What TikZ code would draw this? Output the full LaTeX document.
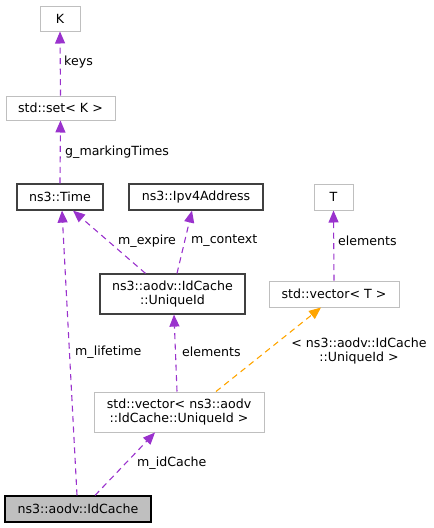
\documentclass[tikz,border=0pt]{standalone}
\usepackage{fontspec}
\setmainfont{DejaVu Sans}
\usetikzlibrary{arrows.meta}

\definecolor{edgepurple}{HTML}{9A32CD}
\definecolor{edgeorange}{HTML}{FFA500}
\definecolor{boxgray}{HTML}{BFBFBF}
\definecolor{boxdark}{HTML}{404040}

\begin{document}
\begin{tikzpicture}[x=1pt, y=-1pt,
    every node/.style={font=\fontsize{12.6}{14.4}\selectfont, inner sep=0pt},
    cls/.style={rectangle, draw=boxdark, line width=1.2pt, fill=white, align=center},
    tmpl/.style={rectangle, draw=boxgray, line width=1pt, fill=white, align=center},
    focus/.style={rectangle, draw=black, line width=1.2pt, fill=boxgray, align=center},
    uses/.style={-{Triangle[length=12pt, width=10pt]}, edgepurple, line width=1.1pt, dash pattern=on 6pt off 4.5pt},
    inst/.style={-{Triangle[length=12pt, width=10pt]}, edgeorange, line width=1.1pt, dash pattern=on 6pt off 4.5pt},
    lbl/.style={anchor=west, text=black}
]
    \useasboundingbox (0,0) rectangle (434,528);

    % top row: templates
    \node[tmpl, minimum width=40pt, minimum height=25pt] (k) at (60,18.5) {K};
    \node[tmpl, minimum width=109pt, minimum height=24pt] (set) at (60.5,108) {std::set\textless{} K \textgreater{}};

    % classes
    \node[cls, minimum width=86pt, minimum height=26pt] (time) at (60,197) {ns3::Time};
    \node[cls, minimum width=134pt, minimum height=26pt] (ipv4) at (196,197) {ns3::Ipv4Address};
    \node[tmpl, minimum width=39pt, minimum height=26pt] (t) at (333.5,197) {T};
    \node[cls, minimum width=145pt, minimum height=40pt] (uid) at (172.5,294) {ns3::aodv::IdCache\\::UniqueId};
    \node[tmpl, minimum width=130pt, minimum height=26pt] (vect) at (334,294) {std::vector\textless{} T \textgreater{}};
    \node[tmpl, minimum width=170pt, minimum height=40pt] (vecu) at (179,412) {std::vector\textless{} ns3::aodv\\::IdCache::UniqueId \textgreater{}};
    \node[focus, minimum width=146pt, minimum height=26pt] (idc) at (78,509) {ns3::aodv::IdCache};

    % member edges
    \draw[uses] (set.north) -- (k.south);
    \draw[uses] (time.north) -- (set.south);
    \draw[uses] ([xshift=-1pt]idc.north) -- ([xshift=2pt]time.south);
    \draw[uses] ([xshift=17pt]idc.north) -- ([xshift=-24pt]vecu.south);
    \draw[uses] ([xshift=-27pt]uid.north) -- ([xshift=13pt]time.south);
    \draw[uses] ([xshift=4.5pt]uid.north) -- ([xshift=-4pt]ipv4.south);
    \draw[uses] ([xshift=-2pt]vecu.north) -- ([xshift=1.5pt]uid.south);
    \draw[uses] (vect.north) -- (t.south);

    % template instance
    \draw[inst] ([xshift=37pt]vecu.north) -- ([xshift=-13pt]vect.south);

    % edge labels
    \node[lbl] (lkeys) at (64,62) {keys};
    \node[lbl] (lmark) at (65,152) {g\_markingTimes};
    \node[lbl] (llife) at (75,352) {m\_lifetime};
    \node[lbl] (lidc) at (137,463) {m\_idCache};
    \node[lbl] (lexp) at (118,241) {m\_expire};
    \node[lbl] (lctx) at (191,241) {m\_context};
    \node[lbl] (lelu) at (182,352) {elements};
    \node[lbl] (lelt) at (338,241) {elements};
    \node[align=center] (linst) at (359,351) {\textless{} ns3::aodv::IdCache\\::UniqueId \textgreater{}};
\end{tikzpicture}
\end{document}
